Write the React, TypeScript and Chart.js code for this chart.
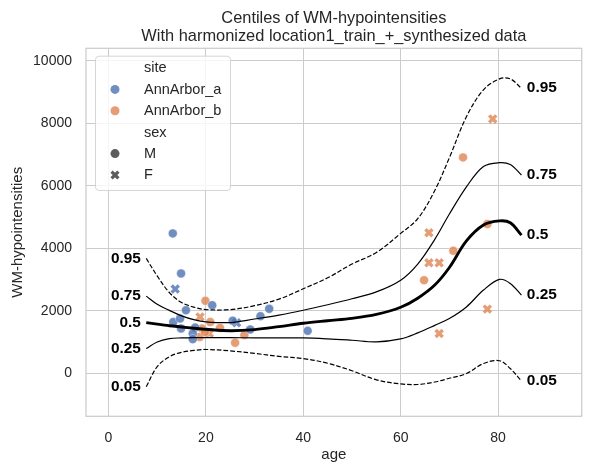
import React, { useEffect, useRef } from "react";
import { Chart, registerables } from "chart.js";

Chart.register(...registerables);

// ---------- text ----------
const TITLE_LINES = [
  "Centiles of WM-hypointensities",
  "With harmonized location1_train_+_synthesized data",
];
const X_LABEL = "age";
const Y_LABEL = "WM-hypointensities";

// ---------- axes ----------
const X_TICKS = [0, 20, 40, 60, 80];
const Y_TICKS = [0, 2000, 4000, 6000, 8000, 10000];
const X_MIN = -4.62;
const X_MAX = 97.17;
const Y_MIN = -1366;
const Y_MAX = 10397;

// ---------- centile curves ----------
const CENTILE_AGES = [7.75, 10, 12.5, 15, 17.5, 20, 25, 30, 35, 40, 45, 50, 55, 60, 63.5, 67, 70, 73.5, 77, 80.3, 82.5, 84.8];
const Q95 = [3680, 3120, 2590, 2270, 2125, 2045, 2045, 2170, 2380, 2710, 3060, 3500, 3870, 4480, 4950, 5850, 6900, 8210, 9070, 9420, 9420, 9120];
const Q75 = [2475, 2215, 2020, 1845, 1725, 1655, 1630, 1745, 1870, 2025, 2200, 2390, 2610, 2985, 3500, 4290, 5100, 5970, 6620, 6740, 6680, 6345];
const Q50 = [1630, 1580, 1530, 1490, 1450, 1415, 1370, 1405, 1500, 1610, 1690, 1765, 1890, 2120, 2410, 2830, 3390, 4240, 4750, 4880, 4820, 4425];
const Q25 = [800, 1010, 1115, 1140, 1150, 1150, 1150, 1140, 1140, 1140, 1110, 1065, 1015, 1110, 1300, 1540, 1760, 2130, 2670, 3010, 2880, 2505];
const Q05 = [-420, 220, 540, 680, 740, 770, 725, 645, 550, 480, 330, 90, -200, -330, -350, -270, -150, 0, 320, 410, 160, -235];
const CENTILE_NAMES = ["0.95", "0.75", "0.5", "0.25", "0.05"];
const LABEL_GAP = 1.1; // age units between curve end and its label

// ---------- scatter points ----------
// site AnnArbor_a
const A_M_AGE = [13.2, 14.9, 15.9, 21.3, 13.3, 14.7, 14.9, 17.8, 17.3, 17.3, 25.5, 29.1, 31.2, 33.0, 40.9];
const A_M_VAL = [4480, 3200, 2025, 2185, 1650, 1760, 1440, 1470, 1280, 1100, 1690, 1410, 1835, 2070, 1365];
const A_F_AGE = [13.7, 26.3];
const A_F_VAL = [2700, 1625];
// site AnnArbor_b
const B_M_AGE = [19.9, 20.9, 22.9, 19.2, 18.7, 19.8, 27.9, 26.0, 64.8, 70.8, 72.8, 77.8];
const B_M_VAL = [2325, 1650, 1460, 1440, 1170, 1330, 1230, 985, 2985, 3925, 6910, 4780];
const B_F_AGE = [18.8, 20.7, 65.8, 65.8, 67.9, 67.9, 77.8, 78.9];
const B_F_VAL = [1810, 1280, 4500, 3540, 3540, 1280, 2060, 8140];

// ---------- legend ----------
const LEGEND_SITE_TITLE = "site";
const LEGEND_SITES = ["AnnArbor_a", "AnnArbor_b"];
const LEGEND_SEX_TITLE = "sex";
const LEGEND_SEXES = ["M", "F"];

// ---------- styles ----------
const FONT = "'Liberation Sans', Arial, Helvetica, sans-serif";
const TEXT = "#262626";
const GRID = "#cccccc";
const BLUE = "rgba(76,114,176,0.8)";
const ORANGE = "rgba(221,132,82,0.8)";
const GRAY = "rgba(51,51,51,0.8)";

function pts(xs: number[], ys: number[]) {
  return xs.map((x, i) => ({ x, y: ys[i] }));
}

function drawX(ctx: CanvasRenderingContext2D, cx: number, cy: number, r: number, color: string) {
  ctx.save();
  ctx.strokeStyle = color;
  ctx.lineWidth = 3.3;
  ctx.beginPath();
  ctx.moveTo(cx - r, cy - r);
  ctx.lineTo(cx + r, cy + r);
  ctx.moveTo(cx - r, cy + r);
  ctx.lineTo(cx + r, cy - r);
  ctx.stroke();
  ctx.restore();
}

function drawDot(ctx: CanvasRenderingContext2D, cx: number, cy: number, r: number, color: string) {
  ctx.save();
  ctx.fillStyle = color;
  ctx.beginPath();
  ctx.arc(cx, cy, r, 0, Math.PI * 2);
  ctx.fill();
  ctx.restore();
}

const overlayPlugin = {
  id: "overlay",
  afterDatasetsDraw(chart: any) {
    const { ctx, chartArea: ca, scales } = chart;
    const xs = scales.x;
    const ys = scales.y;
    ctx.save();
    // spines
    ctx.strokeStyle = GRID;
    ctx.lineWidth = 1.25;
    ctx.strokeRect(ca.left, ca.top, ca.right - ca.left, ca.bottom - ca.top);

    // centile labels
    const series = [Q95, Q75, Q50, Q25, Q05];
    const last = CENTILE_AGES.length - 1;
    ctx.font = `bold 15.4px ${FONT}`;
    ctx.fillStyle = "#000";
    ctx.textBaseline = "middle";
    series.forEach((vals, i) => {
      ctx.textAlign = "right";
      ctx.fillText(
        CENTILE_NAMES[i],
        xs.getPixelForValue(CENTILE_AGES[0] - LABEL_GAP),
        ys.getPixelForValue(vals[0])
      );
      ctx.textAlign = "left";
      ctx.fillText(
        CENTILE_NAMES[i],
        xs.getPixelForValue(CENTILE_AGES[last] + LABEL_GAP),
        ys.getPixelForValue(vals[last])
      );
    });

    // legend
    const lx = ca.left + 9;
    const ly = ca.top + 7.4;
    const lw = 135;
    const lh = 134.3;
    ctx.beginPath();
    if ((ctx as any).roundRect) (ctx as any).roundRect(lx + 0.5, ly + 0.5, lw, lh, 3.5);
    else ctx.rect(lx + 0.5, ly + 0.5, lw, lh);
    ctx.fillStyle = "rgba(255,255,255,0.8)";
    ctx.fill();
    ctx.strokeStyle = "rgba(204,204,204,0.8)";
    ctx.lineWidth = 1;
    ctx.stroke();

    const rows = [
      { label: LEGEND_SITE_TITLE, kind: "", color: "" },
      { label: LEGEND_SITES[0], kind: "dot", color: BLUE },
      { label: LEGEND_SITES[1], kind: "dot", color: ORANGE },
      { label: LEGEND_SEX_TITLE, kind: "", color: "" },
      { label: LEGEND_SEXES[0], kind: "dot", color: GRAY },
      { label: LEGEND_SEXES[1], kind: "x", color: GRAY },
    ];
    ctx.font = `14.5px ${FONT}`;
    ctx.textAlign = "left";
    ctx.textBaseline = "middle";
    rows.forEach((r, i) => {
      const cy = ly + 12.3 + i * 21.4;
      ctx.fillStyle = TEXT;
      ctx.fillText(r.label, lx + 49, cy + 0.5);
      if (r.kind === "dot") drawDot(ctx, lx + 20, cy, 4.5, r.color);
      if (r.kind === "x") drawX(ctx, lx + 20, cy, 3.4, r.color);
    });
    ctx.restore();
  },
};

export default function App() {
  const ref = useRef<HTMLCanvasElement | null>(null);

  useEffect(() => {
    document.body.style.margin = "0";
    const canvas = ref.current;
    if (!canvas) return;

    const lineDs = (vals: number[], width: number, dashed: boolean) => ({
      type: "line" as const,
      data: pts(CENTILE_AGES, vals),
      borderColor: "#000",
      borderWidth: width,
      borderDash: dashed ? [4.7, 2.0] : [],
      pointRadius: 0,
      fill: false,
      tension: 0.35,
    });
    const dotDs = (xs: number[], ys: number[], color: string) => ({
      type: "scatter" as const,
      data: pts(xs, ys),
      backgroundColor: color,
      borderColor: "rgba(255,255,255,0.9)",
      borderWidth: 0.5,
      pointRadius: 4.5,
      pointStyle: "circle",
    });
    const xDs = (xs: number[], ys: number[], color: string) => ({
      type: "scatter" as const,
      data: pts(xs, ys),
      backgroundColor: color,
      borderColor: color,
      borderWidth: 3.4,
      pointRadius: 5.0,
      pointStyle: "crossRot",
    });

    const chart = new Chart(canvas, {
      type: "scatter",
      data: {
        datasets: [
          lineDs(Q95, 1.2, true),
          lineDs(Q75, 1.2, false),
          lineDs(Q50, 2.9, false),
          lineDs(Q25, 1.2, false),
          lineDs(Q05, 1.2, true),
          dotDs(A_M_AGE, A_M_VAL, BLUE),
          xDs(A_F_AGE, A_F_VAL, BLUE),
          dotDs(B_M_AGE, B_M_VAL, ORANGE),
          xDs(B_F_AGE, B_F_VAL, ORANGE),
        ] as any,
      },
      options: {
        responsive: false,
        animation: false,
        events: [],
        layout: { padding: { left: 0, right: 10.3, top: 0, bottom: 0 } },
        plugins: {
          legend: { display: false },
          tooltip: { enabled: false },
          title: {
            display: true,
            fullSize: false,
            text: TITLE_LINES,
            color: TEXT,
            font: { family: FONT, size: 16.4, weight: "normal", lineHeight: 1.07 },
            padding: { top: 9.8, bottom: 3.4 },
          },
        },
        scales: {
          x: {
            type: "linear",
            min: X_MIN,
            max: X_MAX,
            afterBuildTicks: (s: any) => {
              s.ticks = X_TICKS.map((v) => ({ value: v }));
            },
            afterFit: (s: any) => {
              s.height = 58.7;
            },
            border: { display: false },
            grid: { color: GRID, lineWidth: 1, drawTicks: false },
            ticks: {
              color: TEXT,
              font: { family: FONT, size: 14 },
              padding: 13,
              maxRotation: 0,
              autoSkip: false,
              callback: (v: any) => String(v),
            },
            title: {
              display: true,
              text: X_LABEL,
              color: TEXT,
              font: { family: FONT, size: 15 },
              padding: { top: 0, bottom: 11.5 },
            },
          },
          y: {
            type: "linear",
            min: Y_MIN,
            max: Y_MAX,
            afterBuildTicks: (s: any) => {
              s.ticks = Y_TICKS.map((v) => ({ value: v }));
            },
            afterFit: (s: any) => {
              s.width = 86;
            },
            border: { display: false },
            grid: { color: GRID, lineWidth: 1, drawTicks: false },
            ticks: {
              color: TEXT,
              font: { family: FONT, size: 14 },
              padding: 14,
              autoSkip: false,
              callback: (v: any) => String(v),
            },
            title: {
              display: true,
              text: Y_LABEL,
              color: TEXT,
              font: { family: FONT, size: 15 },
              padding: { top: 9.3, bottom: 0 },
            },
          },
        },
      },
      plugins: [overlayPlugin],
    });

    return () => chart.destroy();
  }, []);

  return (
    <div style={{ width: 592, height: 475 }}>
      <canvas ref={ref} width={592} height={475} />
    </div>
  );
}
